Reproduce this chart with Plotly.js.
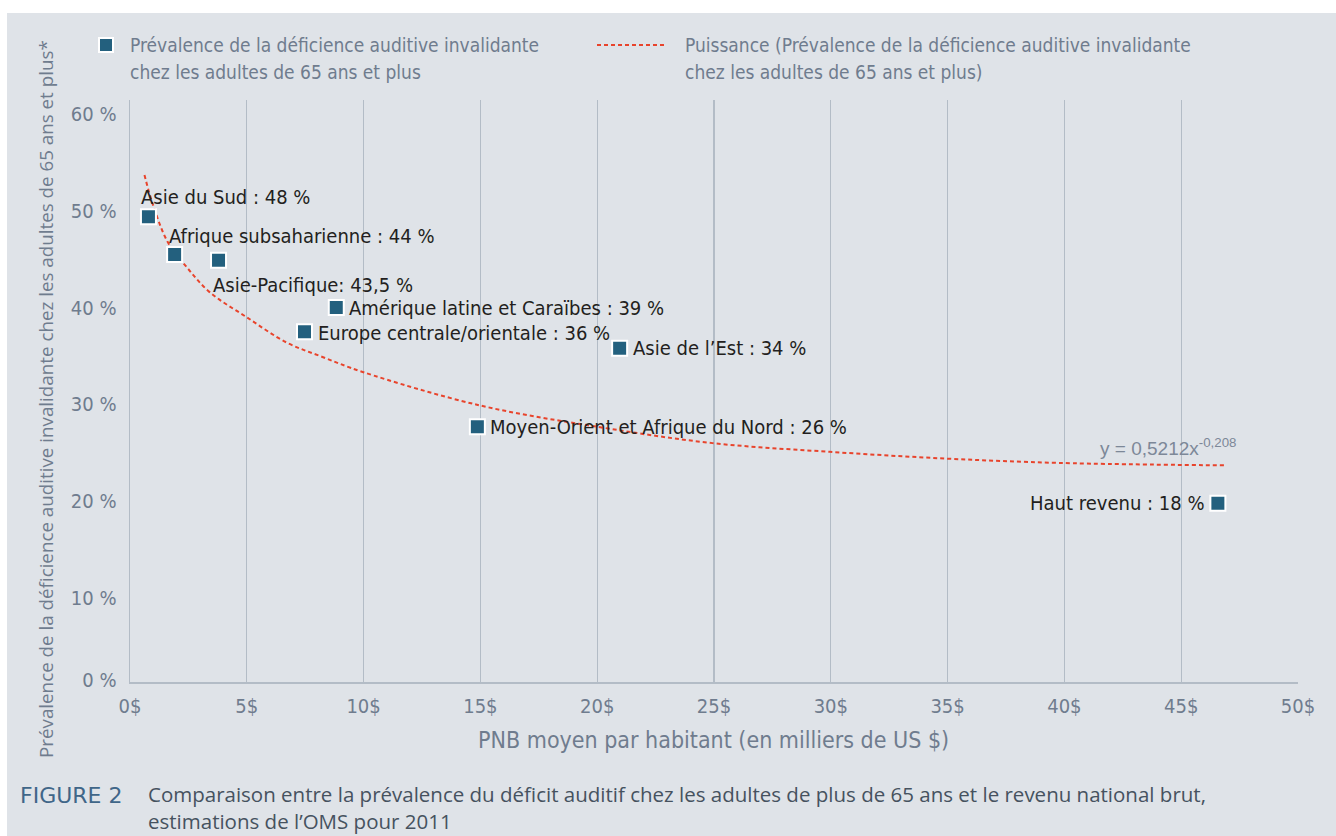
<!DOCTYPE html>
<html>
<head>
<meta charset="utf-8">
<script src="https://cdn.plot.ly/plotly-3.0.1.min.js"></script>
<style>
html,body{margin:0;padding:0;background:#fff;}
#chart{width:1336px;height:836px;}
</style>
</head>
<body>
<div id="chart"></div>
<script>
// ---- Data ----
var regions = ["Asie du Sud : 48 %", "Afrique subsaharienne : 44 %", "Asie-Pacifique: 43,5 %",
  "Amérique latine et Caraïbes : 39 %", "Europe centrale/orientale : 36 %", "Asie de l’Est : 34 %",
  "Moyen-Orient et Afrique du Nord : 26 %", "Haut revenu : 18 %"];
var gnp = [0.79, 1.91, 3.79, 8.83, 7.47, 20.96, 14.87, 46.57];          // thousands US $
var prevalence = [49.4, 45.5, 44.9, 40.0, 37.5, 35.8, 27.7, 19.8];      // %
var trendX = [0.62, 0.96, 1.61, 2.42, 3.41, 5.0, 6.7, 8.24, 9.96, 14.97, 19.98, 24.94, 29.95, 34.96, 39.8, 46.96];
var trendY = [53.7, 50.8, 46.8, 44.2, 41.6, 39.0, 36.4, 34.9, 33.35, 29.9, 27.7, 26.0, 25.1, 24.4, 23.95, 23.7];
var xTickVals = [0, 5, 10, 15, 20, 25, 30, 35, 40, 45, 50];
var xTickText = ["0$", "5$", "10$", "15$", "20$", "25$", "30$", "35$", "40$", "45$", "50$"];
var yTickVals = [1.5, 10, 20, 30, 40, 50, 60];
var yTickText = ["0 %", "10 %", "20 %", "30 %", "40 %", "50 %", "60 %"];
var legendScatter = ["Prévalence de la déficience auditive invalidante", "chez les adultes de 65 ans et plus"];
var legendTrend = ["Puissance (Prévalence de la déficience auditive invalidante", "chez les adultes de 65 ans et plus)"];
var equation = "y = 0,5212x<sup>-0,208</sup>";
var yTitle = "Prévalence de la déficience auditive invalidante chez les adultes de 65 ans et plus*";
var xTitle = "PNB moyen par habitant (en milliers de US $)";
var figLabel = "FIGURE 2";
var caption = ["Comparaison entre la prévalence du déficit auditif chez les adultes de plus de 65 ans et le revenu national brut,", "estimations de l’OMS pour 2011"];

// ---- Styling / placement ----
var NARROW = "'Liberation Sans Narrow', 'Arial Narrow', 'DejaVu Sans Condensed', sans-serif";
var REG = "'Liberation Sans', Arial, sans-serif";
var WIDE = "'Open Sans', 'Liberation Sans', sans-serif";
var GREY = "#6f7c8e";
var MARK = "#23607e";
var RED = "#e8442c";
var labelOffsets = [
  {xa: "left", dx: -9, dy: 20},
  {xa: "left", dx: -8, dy: 18},
  {xa: "left", dx: -8, dy: -25},
  {xa: "left", dx: 11, dy: 0},
  {xa: "left", dx: 11, dy: -1},
  {xa: "left", dx: 11, dy: 0},
  {xa: "left", dx: 11, dy: 0},
  {xa: "right", dx: -12, dy: 0}
];

var W = 1336, H = 836, ML = 130, MR = 38, MT = 100, MB = 154;
var PW = W - ML - MR, PH = H - MT - MB;
function px(x) { return (x - ML) / PW; }
function py(y) { return (H - MB - y) / PH; }

var annotations = [];
for (var i = 0; i < regions.length; i++) {
  var o = labelOffsets[i];
  annotations.push({
    x: gnp[i], y: prevalence[i], xref: "x", yref: "y", text: regions[i], showarrow: false,
    xanchor: o.xa, yanchor: "middle", xshift: o.dx, yshift: o.dy,
    font: {family: NARROW, size: 20, color: "#231f20", weight: 500}
  });
}
// equation near the end of the trend curve
annotations.push({
  x: trendX[trendX.length - 1], y: trendY[trendY.length - 1], xref: "x", yref: "y",
  text: equation, showarrow: false, xanchor: "right", yanchor: "middle", xshift: 11, yshift: 18,
  font: {family: REG, size: 19, color: "#7d8898"}
});
// legend texts
function addText(t, x, y, font, xa, align) {
  annotations.push({x: px(x), y: py(y), xref: "paper", yref: "paper", text: t, showarrow: false,
    xanchor: xa || "left", yanchor: "middle", align: align || "left", borderpad: 0, font: font});
}
var legFont = {family: NARROW, size: 19, color: GREY};
addText(legendScatter[0], 129, 45, legFont);
addText(legendScatter[1], 129, 72, legFont);
addText(legendTrend[0], 684, 45, legFont);
addText(legendTrend[1], 684, 72, legFont);
// axis titles
annotations.push({x: px(46), y: py(399), xref: "paper", yref: "paper", text: yTitle, showarrow: false,
  textangle: -90, xanchor: "center", yanchor: "middle", font: {family: WIDE, size: 18.8, color: GREY}});
addText(xTitle, 713, 740, {family: NARROW, size: 23, color: GREY}, "center", "center");
// caption
addText(figLabel, 19, 795, {family: "'DejaVu Sans', sans-serif", size: 22, color: "#3f6688"});
addText(caption.join("<br>"), 147, 807, {family: WIDE, size: 20.5, color: "#46525f"});

var shapes = [
  {type: "rect", xref: "paper", yref: "paper", x0: px(7), x1: px(1340), y0: py(13), y1: py(840),
   fillcolor: "#dfe3e8", line: {width: 0}, layer: "below"},
  {type: "rect", xref: "paper", yref: "paper", x0: px(99), x1: px(113), y0: py(38), y1: py(52),
   fillcolor: MARK, line: {color: "#ffffff", width: 2}},
  {type: "line", xref: "paper", yref: "paper", x0: px(597), x1: px(666), y0: py(45), y1: py(45),
   line: {color: RED, width: 2, dash: "4px,3px"}}
];

var traces = [
  {x: trendX, y: trendY, type: "scatter", mode: "lines", line: {color: RED, width: 2, dash: "4px,3px", shape: "spline"},
   hoverinfo: "skip", showlegend: false},
  {x: gnp, y: prevalence, type: "scatter", mode: "markers",
   marker: {symbol: "square", size: 15, color: MARK, line: {color: "#ffffff", width: 2}}, showlegend: false}
];

var layout = {
  width: W, height: H,
  margin: {l: ML, r: MR, t: MT, b: MB, pad: 0},
  paper_bgcolor: "#ffffff", plot_bgcolor: "rgba(0,0,0,0)",
  showlegend: false,
  xaxis: {range: [0, 50], tickvals: xTickVals, ticktext: xTickText, showgrid: true, gridcolor: "#b3bcc6", gridwidth: 1.3,
    zeroline: false, showline: true, linecolor: "#b3bcc6", linewidth: 1.5, ticks: "", ticklabelstandoff: 5,
    tickfont: {family: NARROW, size: 20, color: GREY}, fixedrange: true},
  yaxis: {range: [1.32, 61.45], tickvals: yTickVals, ticktext: yTickText, showgrid: false, zeroline: false,
    showline: true, linecolor: "#b3bcc6", linewidth: 1.5, ticks: "", ticklabelstandoff: 8,
    tickfont: {family: NARROW, size: 20, color: GREY}, fixedrange: true},
  shapes: shapes,
  annotations: annotations
};

Plotly.newPlot("chart", traces, layout, {displayModeBar: false, staticPlot: true});
</script>
</body>
</html>
